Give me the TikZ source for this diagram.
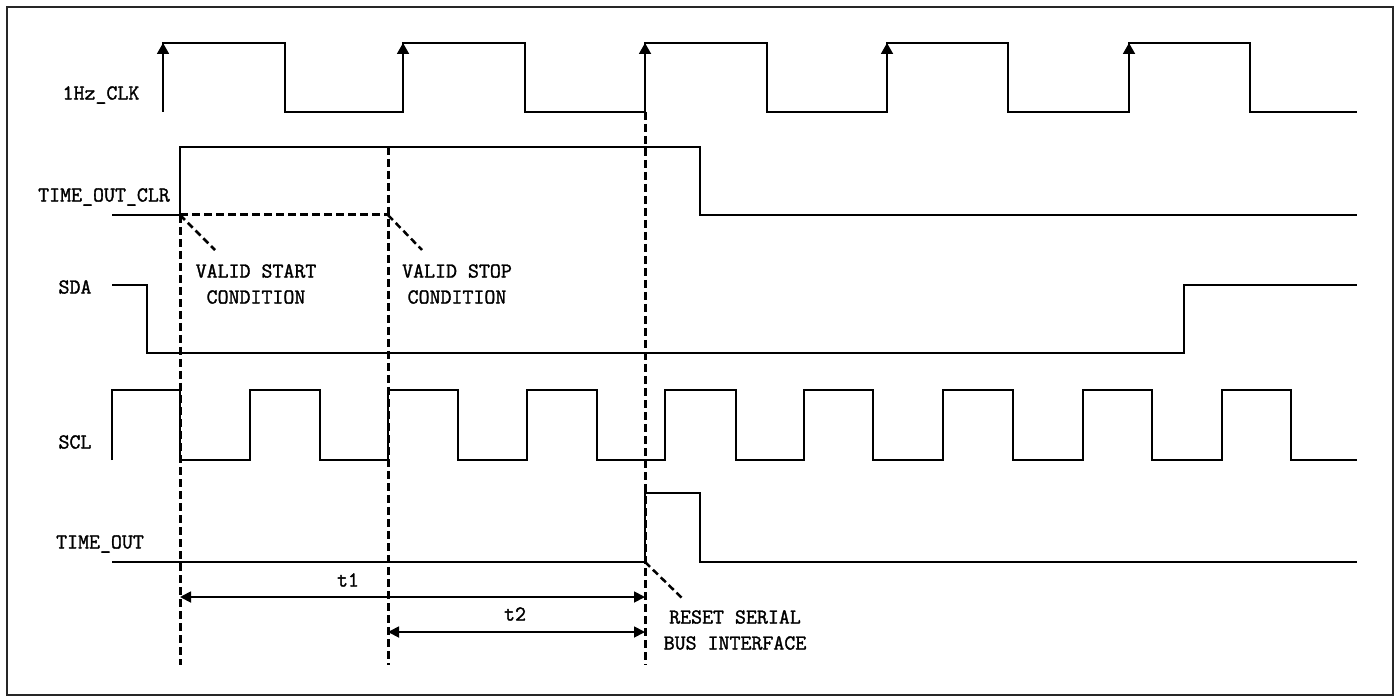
\documentclass[tikz,border=0pt]{standalone}
\usepackage{fontspec}
\usetikzlibrary{arrows.meta}
\newfontfamily\lblfont[FakeBold=1.5]{Latin Modern Mono}
\tikzset{
  sig/.style={line width=1.8pt, black, line join=miter},
  dsh/.style={line width=3pt, black, dash pattern=on 8pt off 4pt},
  lbl/.style={font=\lblfont\fontsize{21.3}{26}\selectfont, inner sep=0pt, align=center},
  dim/.style={line width=1.8pt, {Triangle[length=11pt,width=11pt]}-{Triangle[length=11pt,width=11pt]}},
  edgearrow/.style={line width=1.8pt, -{Triangle[length=11pt,width=12pt]}}
}
\begin{document}
\begin{tikzpicture}[x=1pt,y=-1pt]
\useasboundingbox (0,0) rectangle (1397,700);
\fill[white] (0,0) rectangle (1397,700);
\draw[line width=2pt, black!85] (7,7) rectangle (1393,695);

% labels
\node[lbl] (lclk) at (101,95) {1Hz\_CLK};
\node[lbl] (lclr) at (104,197) {TIME\_OUT\_CLR};
\node[lbl] (lsda) at (75,287) {SDA};
\node[lbl] (lscl) at (75,442) {SCL};
\node[lbl] (ltout) at (100,544) {TIME\_OUT};

% 1Hz_CLK
\draw[sig] (163,112) -- (163,43) -- (285,43) -- (285,112) -- (403,112) -- (403,43) -- (525,43) -- (525,112) -- (645,112) -- (645,43) -- (767,43) -- (767,112) -- (887,112) -- (887,43) -- (1008,43) -- (1008,112) -- (1129,112) -- (1129,43) -- (1250,43) -- (1250,112) -- (1357,112);
\foreach \x in {163,403,645,887,1129}{
  \draw[edgearrow] (\x,70) -- (\x,43);
}

% TIME_OUT_CLR
\draw[sig] (112,215) -- (180,215) -- (180,147) -- (700,147) -- (700,215) -- (1357,215);

% SDA
\draw[sig] (112,285) -- (147,285) -- (147,353) -- (1184,353) -- (1184,285) -- (1357,285);

% SCL
\draw[sig] (112,460) -- (112,390) -- (180,390) -- (180,460) -- (250,460) -- (250,390) -- (320,390) -- (320,460) -- (388,460) -- (388,390) -- (458,390) -- (458,460) -- (527,460) -- (527,390) -- (597,390) -- (597,460) -- (665,460) -- (665,390) -- (736,390) -- (736,460) -- (804,460) -- (804,390) -- (873,390) -- (873,460) -- (943,460) -- (943,390) -- (1013,390) -- (1013,460) -- (1083,460) -- (1083,390) -- (1152,390) -- (1152,460) -- (1222,460) -- (1222,390) -- (1291,390) -- (1291,460) -- (1357,460);

% TIME_OUT
\draw[sig] (112,562) -- (645,562) -- (645,493) -- (700,493) -- (700,562) -- (1357,562);

% key coordinates
\coordinate (startc) at (180,215);
\coordinate (stopc) at (388,215);
\coordinate (resetc) at (645,562);
\coordinate (d1top) at (180,215);
\coordinate (d1bot) at (180,665);
\coordinate (d2top) at (388,147);
\coordinate (d2bot) at (388,665);
\coordinate (d3top) at (645,112);
\coordinate (d3bot) at (645,665);
\coordinate (startl) at (215,250);
\coordinate (stopl) at (422,250);
\coordinate (resetl) at (682,598);

% dashed lines
\draw[dsh] (d1top) -- (d1bot);
\draw[dsh] (d2top) -- (d2bot);
\draw[dsh] (d3top) -- (d3bot);
\draw[dsh] (startc) -- (stopc);
\draw[dsh, line width=2.5pt, dash pattern=on 7pt off 4pt] (startc) -- (startl);
\draw[dsh, line width=2.5pt, dash pattern=on 7pt off 4pt] (stopc) -- (stopl);
\draw[dsh, line width=2.5pt, dash pattern=on 7pt off 4pt] (resetc) -- (resetl);

% annotations
\node[lbl] (vstart) at (256,284) {VALID START\\CONDITION};
\node[lbl] (vstop) at (457,284) {VALID STOP\\CONDITION};
\node[lbl] (reset) at (735,630) {RESET SERIAL\\BUS INTERFACE};

% timing arrows
\coordinate (t1a) at (180,597);
\coordinate (t1b) at (645,597);
\coordinate (t2a) at (388,632);
\coordinate (t2b) at (645,632);
\draw[dim] (t1a) -- (t1b);
\draw[dim] (t2a) -- (t2b);
\node[lbl] (t1) at (348,580) {t1};
\node[lbl] (t2) at (515,614) {t2};
\end{tikzpicture}
\end{document}
